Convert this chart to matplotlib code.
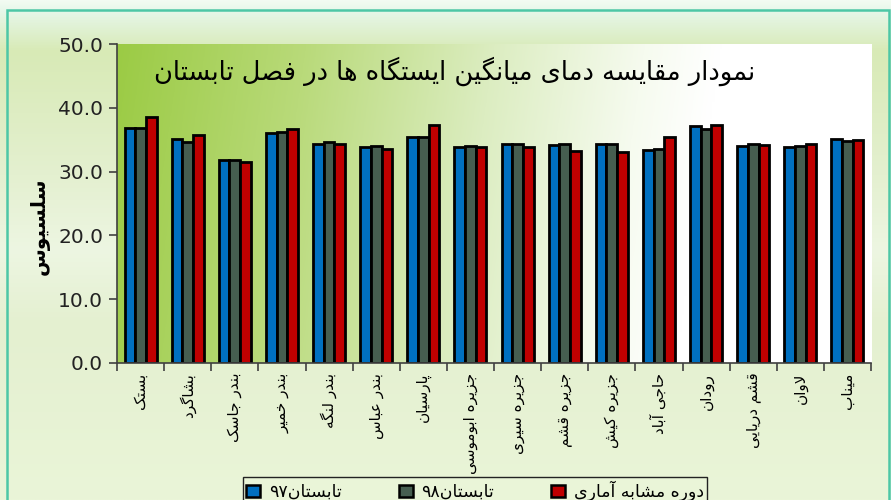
import re
import numpy as np
import matplotlib
matplotlib.use("Agg")
import matplotlib.pyplot as plt
from matplotlib.colors import to_rgb
from matplotlib.patches import Rectangle, Patch

# --- data ---
stations = ["بستک", "بشاگرد", "بندر جاسک", "بندر خمیر", "بندر لنگه", "بندر عباس",
            "پارسیان", "جزیره ابوموسی", "جزیره سیری", "جزیره قشم", "جزیره کیش",
            "حاجی آباد", "رودان", "قشم دریایی", "لاوان", "میناب"]
summer97 = [36.8, 35.1, 31.8, 36.1, 34.4, 33.9, 35.5, 33.9, 34.3, 34.1, 34.4, 33.4, 37.2, 34.0, 33.9, 35.1]
summer98 = [36.9, 34.6, 31.8, 36.2, 34.7, 34.0, 35.5, 34.0, 34.3, 34.4, 34.4, 33.6, 36.6, 34.3, 34.0, 34.8]
normal = [38.6, 35.7, 31.5, 36.7, 34.3, 33.5, 37.3, 33.8, 33.8, 33.3, 33.1, 35.4, 37.3, 34.2, 34.4, 35.0]
series_names = ["تابستان۹۷", "تابستان۹۸", "دوره مشابه آماری"]
title = "نمودار مقایسه دمای میانگین ایستگاه ها در فصل تابستان"
ylabel = "سلسیوس"
yticks = [0, 10, 20, 30, 40, 50]

# --- persian shaping (matplotlib nie laczy liter) ---
# isolated, final, initial, medial
FORMS = {
    "ا": ("\uFE8D", "\uFE8E", None, None),
    "آ": ("\uFE81", "\uFE82", None, None),
    "ب": ("\uFE8F", "\uFE90", "\uFE91", "\uFE92"),
    "پ": ("\uFB56", "\uFB57", "\uFB58", "\uFB59"),
    "ت": ("\uFE95", "\uFE96", "\uFE97", "\uFE98"),
    "ج": ("\uFE9D", "\uFE9E", "\uFE9F", "\uFEA0"),
    "ح": ("\uFEA1", "\uFEA2", "\uFEA3", "\uFEA4"),
    "خ": ("\uFEA5", "\uFEA6", "\uFEA7", "\uFEA8"),
    "د": ("\uFEA9", "\uFEAA", None, None),
    "ر": ("\uFEAD", "\uFEAE", None, None),
    "ز": ("\uFEAF", "\uFEB0", None, None),
    "س": ("\uFEB1", "\uFEB2", "\uFEB3", "\uFEB4"),
    "ش": ("\uFEB5", "\uFEB6", "\uFEB7", "\uFEB8"),
    "ص": ("\uFEB9", "\uFEBA", "\uFEBB", "\uFEBC"),
    "ع": ("\uFEC9", "\uFECA", "\uFECB", "\uFECC"),
    "ف": ("\uFED1", "\uFED2", "\uFED3", "\uFED4"),
    "ق": ("\uFED5", "\uFED6", "\uFED7", "\uFED8"),
    "ک": ("\uFB8E", "\uFB8F", "\uFB90", "\uFB91"),
    "گ": ("\uFB92", "\uFB93", "\uFB94", "\uFB95"),
    "ل": ("\uFEDD", "\uFEDE", "\uFEDF", "\uFEE0"),
    "م": ("\uFEE1", "\uFEE2", "\uFEE3", "\uFEE4"),
    "ن": ("\uFEE5", "\uFEE6", "\uFEE7", "\uFEE8"),
    "و": ("\uFEED", "\uFEEE", None, None),
    "ه": ("\uFEE9", "\uFEEA", "\uFEEB", "\uFEEC"),
    "ی": ("\uFBFC", "\uFBFD", "\uFBFE", "\uFBFF"),
}
LAMALEF = {"ا": ("\uFEFB", "\uFEFC"), "آ": ("\uFEF5", "\uFEF6")}
DIGITS = "0123456789۰۱۲۳۴۵۶۷۸۹."


def fa(s):
    out = []
    i = 0
    n = len(s)
    while i < n:
        c = s[i]
        if c not in FORMS:
            out.append(c)
            i += 1
            continue
        prev = s[i - 1] if i > 0 else ""
        joins_prev = prev in FORMS and FORMS[prev][2] is not None
        if c == "ل" and i + 1 < n and s[i + 1] in LAMALEF:
            lig = LAMALEF[s[i + 1]]
            out.append(lig[1] if joins_prev else lig[0])
            i += 2
            continue
        nxt = s[i + 1] if i + 1 < n else ""
        joins_next = nxt in FORMS and FORMS[c][2] is not None
        iso, fin, ini, med = FORMS[c]
        if joins_prev and joins_next:
            out.append(med)
        elif joins_prev:
            out.append(fin)
        elif joins_next:
            out.append(ini)
        else:
            out.append(iso)
        i += 1
    shaped = "".join(out)
    runs = re.findall(r"[0-9۰-۹.]+|[^0-9۰-۹.]+", shaped)
    return "".join(r if r[0] in DIGITS else r[::-1] for r in reversed(runs))


def gradient(stops, t):
    pos = [p for p, _ in stops]
    cols = np.array([to_rgb(c) for _, c in stops])
    return np.stack([np.interp(t, pos, cols[:, k]) for k in range(3)], axis=-1)


plt.rcParams["font.family"] = ["DejaVu Sans"]

fig = plt.figure(figsize=(8.91, 5.0), dpi=100)

# tlo calego wykresu
bg = fig.add_axes([0, 0, 1, 1], zorder=-5)
ty = np.linspace(0, 1, 200)[:, None] * np.ones((1, 10))
bg_img = gradient([(0.0, "#F2FBF2"), (0.02, "#E6F7E9"), (0.10, "#D8EAB6"), (0.35, "#E4F0D0"),
                   (0.5, "#EDF6E2"), (0.65, "#E4F0D0"), (1.0, "#EAF5D8")], ty)
bg.imshow(bg_img, extent=[0, 1, 0, 1], aspect="auto", origin="upper")
bg.add_patch(Rectangle((7 / 891, -0.1), (889 - 7) / 891, 1.1 - 10 / 500,
                       fill=False, edgecolor="#4DC7A6", linewidth=1.8))
bg.set_xlim(0, 1)
bg.set_ylim(0, 1)
bg.axis("off")

ax = fig.add_axes([117 / 891, 1 - 363 / 500, 754 / 891, 319 / 500])

# gradient pola wykresu
gx, gy = np.meshgrid(np.linspace(0, 1, 300), np.linspace(0, 1, 150))
tt = gx + 0.06 * gy
area = gradient([(0.0, "#9BCB44"), (0.25, "#B9DA7A"), (0.5, "#DCEDC1"),
                 (0.7, "#F6FBEF"), (0.8, "#FFFFFF"), (2.0, "#FFFFFF")], tt)
ax.imshow(area, extent=[0, 1, 0, 1], transform=ax.transAxes, aspect="auto",
          origin="upper", zorder=0)

x = np.arange(len(stations))
w = 0.227
kolory = ["#0070C0", "#465E50", "#C00000"]
for k, vals in enumerate([summer97, summer98, normal]):
    ax.bar(x + (k - 1) * w, vals, width=w, color=kolory[k], edgecolor="black",
           linewidth=2.0, zorder=3)

ax.set_xlim(-0.5, len(stations) - 0.5)
ax.set_ylim(0, 50)
ax.set_yticks(yticks)
ax.set_yticklabels(["%.1f" % v for v in yticks], fontsize=14.5, color="#222222")
ax.set_xticks(x)
ax.set_xticklabels([fa(s) for s in stations], rotation=90, fontsize=11)
ax.set_xticks(np.arange(-0.5, len(stations)), minor=True)
ax.tick_params(axis="x", which="major", length=0, pad=7)
ax.tick_params(axis="x", which="minor", length=6, color="#404040", width=1.2)
ax.tick_params(axis="y", length=6, color="#404040", width=1.2, pad=4)
for s in ["top", "right"]:
    ax.spines[s].set_visible(False)
for s in ["left", "bottom"]:
    ax.spines[s].set_color("#404040")
    ax.spines[s].set_linewidth(1.2)
    ax.spines[s].set_zorder(4)

ax.text(0.448, 0.915, fa(title), transform=ax.transAxes, ha="center", va="center",
        fontsize=18.5, zorder=5)
fig.text(40 / 891, 1 - 226 / 500, fa(ylabel), rotation=90, ha="center", va="center",
         fontsize=14.5, fontweight="bold")

handles = [Patch(facecolor=c, edgecolor="black", linewidth=1.8) for c in kolory]
leg = fig.legend(handles, [fa(s) for s in series_names], ncol=3, loc="upper center",
                 bbox_to_anchor=(475 / 891, 1 - 477 / 500), bbox_transform=fig.transFigure,
                 fontsize=12.5, frameon=True, fancybox=False, handlelength=0.8,
                 handleheight=0.7, columnspacing=3.3, handletextpad=0.5,
                 borderaxespad=0, borderpad=0.2)
leg.get_frame().set_edgecolor("#222222")
leg.get_frame().set_linewidth(1.0)
leg.get_frame().set_facecolor("#EAF5D8")
leg.get_frame().set_alpha(1)

plt.savefig("out.png", dpi=100)
